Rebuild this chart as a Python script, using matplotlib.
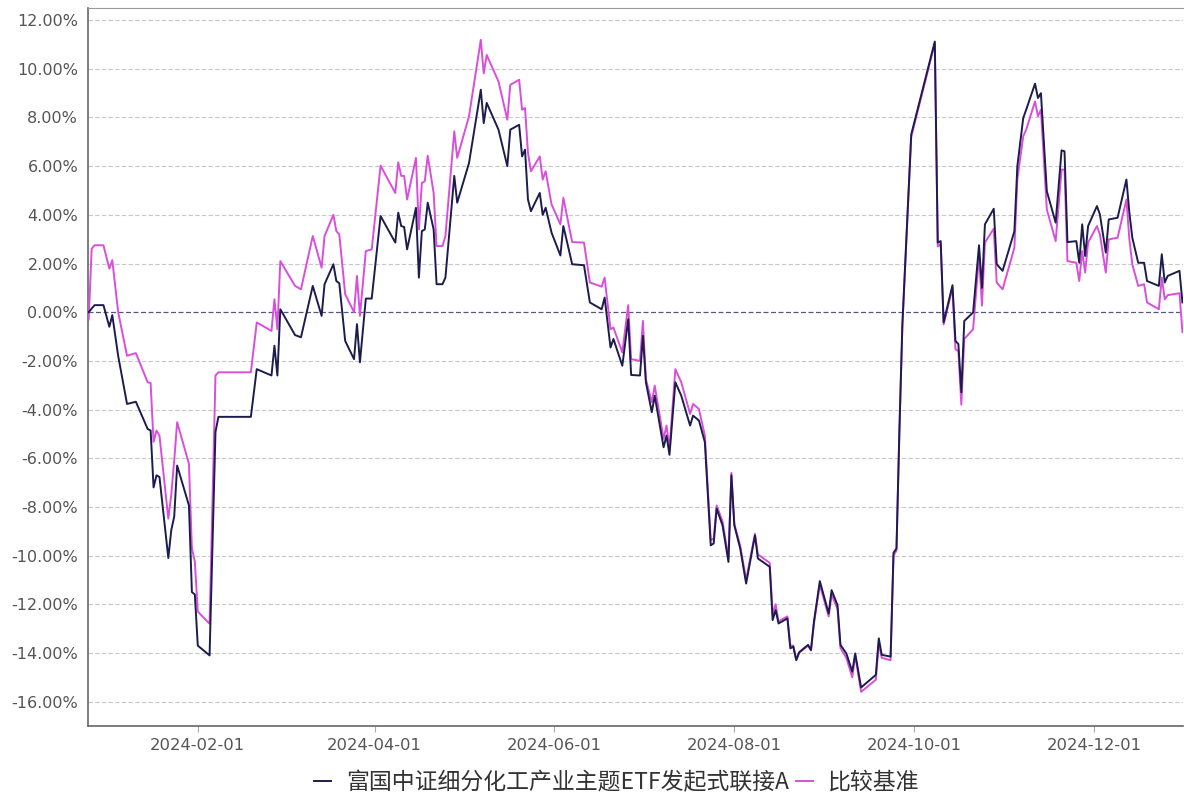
import matplotlib
matplotlib.use("Agg")
import matplotlib.pyplot as plt
import matplotlib.dates as mdates
import matplotlib.ticker as ticker
import pandas as pd

plt.rcParams['font.family'] = ['Noto Sans CJK SC', 'DejaVu Sans']

fund_name = '富国中证细分化工产业主题ETF发起式联接A'
bench_name = '比较基准'

# values (cumulative return, %)
dates = [
    "2023-12-26", "2023-12-27", "2023-12-28", "2023-12-29", "2023-12-31",
    "2024-01-02", "2024-01-03", "2024-01-05", "2024-01-08", "2024-01-11",
    "2024-01-15", "2024-01-16", "2024-01-17", "2024-01-18", "2024-01-19",
    "2024-01-22", "2024-01-23", "2024-01-24", "2024-01-25", "2024-01-29",
    "2024-01-30", "2024-01-31", "2024-02-01", "2024-02-05", "2024-02-07",
    "2024-02-08", "2024-02-19", "2024-02-21", "2024-02-26", "2024-02-27",
    "2024-02-28", "2024-02-29", "2024-03-05", "2024-03-07", "2024-03-11",
    "2024-03-14", "2024-03-15", "2024-03-18", "2024-03-19", "2024-03-20",
    "2024-03-22", "2024-03-25", "2024-03-26", "2024-03-27", "2024-03-29",
    "2024-03-31", "2024-04-03", "2024-04-08", "2024-04-09", "2024-04-10",
    "2024-04-11", "2024-04-12", "2024-04-15", "2024-04-16", "2024-04-17",
    "2024-04-18", "2024-04-19", "2024-04-21", "2024-04-22", "2024-04-24",
    "2024-04-25", "2024-04-28", "2024-04-29", "2024-05-03", "2024-05-07",
    "2024-05-08", "2024-05-09", "2024-05-13", "2024-05-16", "2024-05-17",
    "2024-05-20", "2024-05-21", "2024-05-22", "2024-05-23", "2024-05-24",
    "2024-05-27", "2024-05-28", "2024-05-29", "2024-05-31", "2024-06-03",
    "2024-06-04", "2024-06-07", "2024-06-11", "2024-06-13", "2024-06-17",
    "2024-06-18", "2024-06-20", "2024-06-21", "2024-06-24", "2024-06-26",
    "2024-06-27", "2024-06-30", "2024-07-01", "2024-07-02", "2024-07-04",
    "2024-07-05", "2024-07-08", "2024-07-09", "2024-07-10", "2024-07-12",
    "2024-07-14", "2024-07-17", "2024-07-18", "2024-07-20", "2024-07-22",
    "2024-07-24", "2024-07-25", "2024-07-26", "2024-07-28", "2024-07-30",
    "2024-07-31", "2024-08-01", "2024-08-03", "2024-08-05", "2024-08-08",
    "2024-08-09", "2024-08-13", "2024-08-14", "2024-08-15", "2024-08-16",
    "2024-08-19", "2024-08-20", "2024-08-21", "2024-08-22", "2024-08-23",
    "2024-08-26", "2024-08-27", "2024-08-28", "2024-08-30", "2024-09-02",
    "2024-09-03", "2024-09-05", "2024-09-06", "2024-09-08", "2024-09-10",
    "2024-09-11", "2024-09-13", "2024-09-18", "2024-09-19", "2024-09-20",
    "2024-09-23", "2024-09-24", "2024-09-25", "2024-09-26", "2024-09-27",
    "2024-09-30", "2024-10-08", "2024-10-09", "2024-10-10", "2024-10-11",
    "2024-10-14", "2024-10-15", "2024-10-16", "2024-10-17", "2024-10-18",
    "2024-10-21", "2024-10-23", "2024-10-24", "2024-10-25", "2024-10-28",
    "2024-10-29", "2024-10-31", "2024-11-04", "2024-11-05", "2024-11-07",
    "2024-11-08", "2024-11-11", "2024-11-12", "2024-11-13", "2024-11-15",
    "2024-11-18", "2024-11-20", "2024-11-21", "2024-11-22", "2024-11-25",
    "2024-11-26", "2024-11-27", "2024-11-28", "2024-11-29", "2024-12-02",
    "2024-12-03", "2024-12-05", "2024-12-06", "2024-12-09", "2024-12-12",
    "2024-12-13", "2024-12-14", "2024-12-16", "2024-12-18", "2024-12-19",
    "2024-12-23", "2024-12-24", "2024-12-25", "2024-12-26", "2024-12-30",
    "2024-12-31",
]

fund = [
    0.00, 0.15, 0.29, 0.29, 0.29,
    -0.60, -0.12, -1.80, -3.77, -3.68,
    -4.80, -4.86, -7.20, -6.70, -6.77,
    -10.10, -8.96, -8.40, -6.30, -7.94,
    -11.50, -11.60, -13.70, -14.10, -4.92,
    -4.30, -4.30, -2.34, -2.60, -1.38,
    -2.60, 0.12, -0.94, -1.03, 1.08,
    -0.15, 1.15, 1.97, 1.28, 1.19,
    -1.18, -1.93, -0.49, -2.06, 0.56,
    0.56, 3.95, 2.86, 4.09, 3.54,
    3.50, 2.58, 4.29, 1.42, 3.33,
    3.40, 4.50, 3.40, 1.15, 1.15,
    1.42, 5.60, 4.50, 6.13, 9.14,
    7.77, 8.60, 7.50, 6.00, 7.50,
    7.70, 6.40, 6.68, 4.63, 4.15,
    4.90, 4.00, 4.29, 3.27, 2.33,
    3.54, 1.97, 1.93, 0.40, 0.12,
    0.60, -1.45, -1.10, -2.20, -0.29,
    -2.58, -2.60, -0.97, -2.88, -4.11,
    -3.43, -5.55, -5.07, -5.86, -2.88,
    -3.43, -4.66, -4.25, -4.45, -5.34,
    -9.58, -9.50, -8.07, -8.76, -10.26,
    -6.70, -8.76, -9.71, -11.15, -9.17,
    -10.12, -10.46, -12.65, -12.24, -12.79,
    -12.58, -13.81, -13.74, -14.29, -13.97,
    -13.67, -13.88, -12.72, -11.05, -12.38,
    -11.42, -12.04, -13.67, -14.02, -14.77,
    -14.02, -15.42, -14.90, -13.40, -14.08,
    -14.15, -9.88, -9.71, -4.80, -0.50,
    7.30, 11.12, 2.86, 2.92, -0.42,
    1.11, -1.18, -1.31, -3.29, -0.36,
    -0.01, 2.75, 1.00, 3.61, 4.25,
    1.97, 1.70, 3.33, 6.00, 7.98,
    8.32, 9.39, 8.80, 9.00, 4.97,
    3.68, 6.65, 6.61, 2.88, 2.92,
    2.03, 3.61, 2.31, 3.54, 4.36,
    4.02, 2.45, 3.81, 3.88, 5.45,
    4.09, 3.06, 2.03, 2.03, 1.28,
    1.08, 2.38, 1.22, 1.49, 1.70,
    0.40,
]

bench = [
    -0.30, 2.60, 2.75, 2.75, 2.75,
    1.79, 2.14, 0.00, -1.79, -1.68,
    -2.88, -2.91, -5.33, -4.86, -5.07,
    -8.48, -7.50, -6.10, -4.52, -6.23,
    -9.70, -10.25, -12.30, -12.80, -2.60,
    -2.47, -2.47, -0.42, -0.77, 0.53,
    -0.70, 2.10, 1.08, 0.94, 3.13,
    1.83, 3.13, 4.00, 3.33, 3.20,
    0.74, 0.00, 1.49, -0.15, 2.51,
    2.58, 6.02, 4.90, 6.16, 5.60,
    5.60, 4.63, 6.34, 3.40, 5.31,
    5.38, 6.43, 4.90, 2.72, 2.72,
    3.13, 7.43, 6.34, 8.05, 11.19,
    9.82, 10.57, 9.48, 7.91, 9.34,
    9.55, 8.32, 8.39, 6.55, 5.79,
    6.40, 5.45, 5.79, 4.43, 3.61,
    4.70, 2.88, 2.86, 1.22, 1.05,
    1.42, -0.70, -0.63, -1.65, 0.29,
    -1.93, -2.00, -0.36, -2.75, -3.70,
    -3.02, -5.20, -4.66, -5.61, -2.34,
    -2.88, -4.18, -3.77, -3.98, -5.07,
    -9.37, -9.30, -7.94, -8.60, -10.10,
    -6.60, -8.70, -9.60, -11.00, -9.10,
    -9.95, -10.30, -12.40, -12.00, -12.70,
    -12.50, -13.70, -13.70, -14.30, -14.00,
    -13.70, -13.90, -12.80, -11.20, -12.50,
    -11.60, -12.20, -13.80, -14.20, -15.00,
    -14.10, -15.60, -15.10, -13.60, -14.20,
    -14.30, -10.00, -9.80, -4.90, -0.60,
    7.20, 11.05, 2.70, 2.80, -0.50,
    1.00, -1.52, -1.60, -3.80, -1.10,
    -0.70, 2.31, 0.27, 2.86, 3.43,
    1.22, 0.94, 2.65, 5.45, 7.23,
    7.50, 8.66, 8.05, 8.32, 4.22,
    2.92, 5.86, 5.86, 2.10, 2.03,
    1.28, 2.51, 1.63, 2.86, 3.54,
    3.20, 1.63, 2.99, 3.06, 4.63,
    2.99, 1.97, 1.08, 1.15, 0.40,
    0.12, 1.42, 0.53, 0.70, 0.78,
    -0.82,
]

x_ticks = ["2024-02-01", "2024-04-01", "2024-06-01", "2024-08-01", "2024-10-01", "2024-12-01"]
y_ticks = [12, 10, 8, 6, 4, 2, 0, -2, -4, -6, -8, -10, -12, -14, -16]

dt = pd.to_datetime(dates)

fig = plt.figure(figsize=(11.84, 7.96), dpi=100)
ax = fig.add_axes([0.0743, 0.088, 0.925, 0.902])

ax.plot(dt, bench, color='#d84fdc', linewidth=1.4, label=bench_name, zorder=3)
ax.plot(dt, fund, color='#1c1c4e', linewidth=1.4, label=fund_name, zorder=4)

ax.set_ylim(-17, 12.5)
ax.set_xlim(pd.Timestamp("2023-12-25 18:00"), pd.Timestamp("2024-12-31 06:00"))
ax.set_yticks(y_ticks)
ax.yaxis.set_major_formatter(ticker.FuncFormatter(lambda v, p: f'{v:.2f}%'))
ax.set_xticks(pd.to_datetime(x_ticks))
ax.xaxis.set_major_formatter(mdates.DateFormatter('%Y-%m-%d'))

for v in y_ticks:
    if v == 0:
        ax.axhline(v, color='#55558a', linestyle=(0, (4, 2)), linewidth=0.9, zorder=1)
    else:
        ax.axhline(v, color='#c8c8c8', linestyle=(0, (4, 2)), linewidth=0.8, zorder=1)

for side in ['left', 'bottom']:
    ax.spines[side].set_color('#666666')
    ax.spines[side].set_linewidth(1.2)
ax.spines['top'].set_color('#999999')
ax.spines['right'].set_visible(False)

ax.tick_params(axis='y', length=0, labelsize=11.5, labelcolor='#555555', pad=7,
               labelfontfamily='DejaVu Sans')
ax.tick_params(axis='x', length=4, color='#aaaaaa', labelsize=11.8, labelcolor='#555555', pad=5,
               labelfontfamily='DejaVu Sans')

handles, labels = ax.get_legend_handles_labels()
fig.legend(handles[::-1], labels[::-1], loc='center', bbox_to_anchor=(0.521, 0.017),
           ncol=2, frameon=False, fontsize=16.5, handlelength=0.75, handletextpad=0.65,
           columnspacing=0.3, labelcolor='#333333')

fig.savefig('out.png', dpi=100)
